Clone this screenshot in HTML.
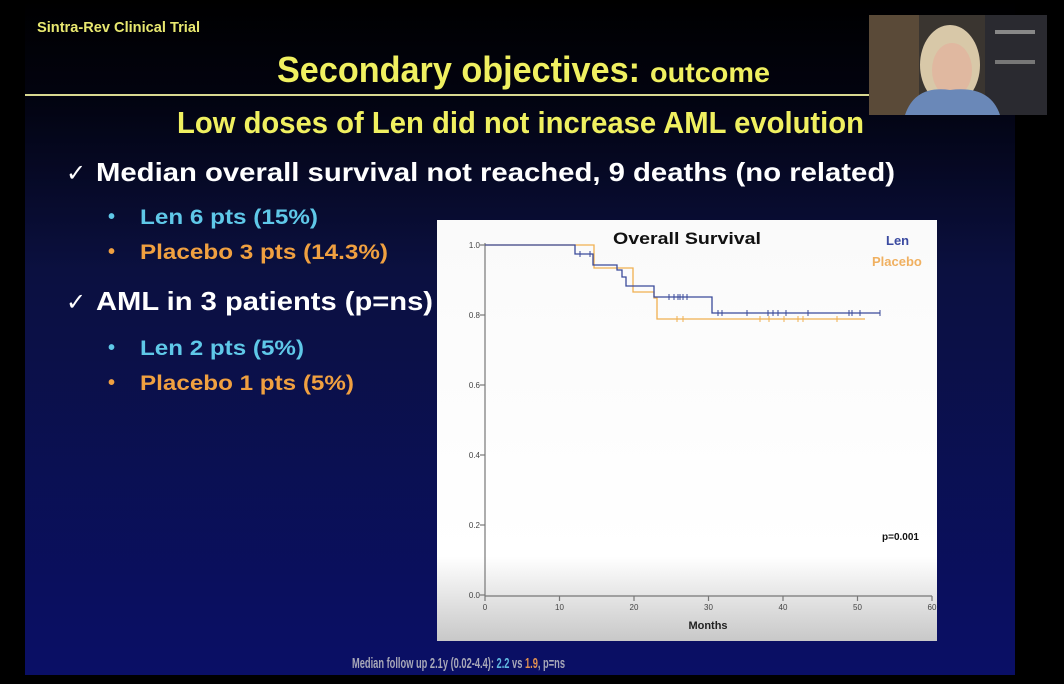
<!DOCTYPE html>
<html><head><meta charset="utf-8"><style>
html,body{margin:0;padding:0;background:#000;width:1064px;height:684px;overflow:hidden}
svg{display:block}
text{font-family:"Liberation Sans",sans-serif}
</style></head><body>
<svg width="1064" height="684" viewBox="0 0 1064 684" xmlns="http://www.w3.org/2000/svg">
<defs>
<linearGradient id="bg" x1="0" y1="0" x2="0" y2="1">
<stop offset="0" stop-color="#000000"/>
<stop offset="0.14" stop-color="#02030f"/>
<stop offset="0.4" stop-color="#0b1040"/>
<stop offset="1" stop-color="#0a0f66"/>
</linearGradient>
<linearGradient id="cb" x1="0" y1="0" x2="0" y2="1">
<stop offset="0" stop-color="#fafafa"/>
<stop offset="0.8" stop-color="#ffffff"/>
<stop offset="1" stop-color="#c8c8c8"/>
</linearGradient>
</defs>
<rect width="1064" height="684" fill="#000"/>
<rect x="25" y="0" width="990" height="675" fill="url(#bg)"/>
<text x="37" y="32" font-size="15" font-weight="bold" fill="#e8e870" textLength="163" lengthAdjust="spacingAndGlyphs">Sintra-Rev Clinical Trial</text>
<text x="277" y="82" font-size="36" font-weight="bold" fill="#f0f060" textLength="363" lengthAdjust="spacingAndGlyphs">Secondary objectives:</text>
<text x="650" y="82" font-size="28" font-weight="bold" fill="#f0f060" textLength="120" lengthAdjust="spacingAndGlyphs">outcome</text>
<rect x="25" y="94" width="845" height="2" fill="#d8d890"/>
<text x="177" y="133" font-size="31" font-weight="bold" fill="#f0f060" textLength="687" lengthAdjust="spacingAndGlyphs">Low doses of Len did not increase AML evolution</text>
<text x="66" y="181" font-size="24" fill="#fff">✓</text>
<text x="96" y="181" font-size="26" font-weight="bold" fill="#fff" textLength="799" lengthAdjust="spacingAndGlyphs">Median overall survival not reached, 9 deaths (no related)</text>
<text x="108" y="223" font-size="20" font-weight="bold" fill="#5fc8e8">•</text>
<text x="140" y="224" font-size="21" font-weight="bold" fill="#5fc8e8" textLength="178" lengthAdjust="spacingAndGlyphs">Len 6 pts (15%)</text>
<text x="108" y="258" font-size="20" font-weight="bold" fill="#f0a040">•</text>
<text x="140" y="259" font-size="21" font-weight="bold" fill="#f0a040" textLength="248" lengthAdjust="spacingAndGlyphs">Placebo 3 pts (14.3%)</text>
<text x="66" y="310" font-size="24" fill="#fff">✓</text>
<text x="96" y="310" font-size="26" font-weight="bold" fill="#fff" textLength="337" lengthAdjust="spacingAndGlyphs">AML in 3 patients (p=ns)</text>
<text x="108" y="354" font-size="20" font-weight="bold" fill="#5fc8e8">•</text>
<text x="140" y="355" font-size="21" font-weight="bold" fill="#5fc8e8" textLength="164" lengthAdjust="spacingAndGlyphs">Len 2 pts (5%)</text>
<text x="108" y="389" font-size="20" font-weight="bold" fill="#f0a040">•</text>
<text x="140" y="390" font-size="21" font-weight="bold" fill="#f0a040" textLength="214" lengthAdjust="spacingAndGlyphs">Placebo 1 pts (5%)</text>

<!-- chart -->
<rect x="437" y="220" width="500" height="421" fill="url(#cb)"/>
<text x="613" y="244" font-size="17" font-weight="bold" fill="#111" textLength="148" lengthAdjust="spacingAndGlyphs">Overall Survival</text>
<text x="886" y="245" font-size="13" font-weight="bold" fill="#3a4aa0">Len</text>
<text x="872" y="266" font-size="13" font-weight="bold" fill="#f0b060">Placebo</text>
<text x="882" y="540" font-size="10" font-weight="bold" fill="#111">p=0.001</text>
<g stroke="#777" stroke-width="1.2" fill="none">
<line x1="485" y1="243" x2="485" y2="596"/>
<line x1="485" y1="596" x2="932" y2="596"/>
<line x1="480" y1="245" x2="485" y2="245"/><line x1="480" y1="315" x2="485" y2="315"/><line x1="480" y1="385" x2="485" y2="385"/><line x1="480" y1="455" x2="485" y2="455"/><line x1="480" y1="525" x2="485" y2="525"/><line x1="480" y1="595" x2="485" y2="595"/>
<line x1="485" y1="596" x2="485" y2="601"/><line x1="559.5" y1="596" x2="559.5" y2="601"/><line x1="634" y1="596" x2="634" y2="601"/><line x1="708.5" y1="596" x2="708.5" y2="601"/><line x1="783" y1="596" x2="783" y2="601"/><line x1="857.5" y1="596" x2="857.5" y2="601"/><line x1="932" y1="596" x2="932" y2="601"/>
</g>
<g font-size="8" fill="#444" text-anchor="end">
<text x="480" y="248">1.0</text><text x="480" y="318">0.8</text><text x="480" y="388">0.6</text><text x="480" y="458">0.4</text><text x="480" y="528">0.2</text><text x="480" y="598">0.0</text>
</g>
<g font-size="8" fill="#444" text-anchor="middle">
<text x="485" y="610">0</text><text x="559.5" y="610">10</text><text x="634" y="610">20</text><text x="708.5" y="610">30</text><text x="783" y="610">40</text><text x="857.5" y="610">50</text><text x="932" y="610">60</text>
</g>
<text x="708" y="629" font-size="11" font-weight="bold" fill="#222" text-anchor="middle">Months</text>
<polyline fill="none" stroke="#f0b050" stroke-width="1.3" points="485,245 594,245 594,268 633,268 633,292 654,292 654,298 657,298 657,319 865,319"/>
<polyline fill="none" stroke="#3a4a9a" stroke-width="1.3" points="485,245 575,245 575,254 593,254 593,265 617,265 617,270 622,270 622,277 626,277 626,286 654,286 654,297 712,297 712,313 880,313"/>
<g stroke="#3a4a9a" stroke-width="1">
<line x1="669" y1="294" x2="669" y2="300"/><line x1="674" y1="294" x2="674" y2="300"/><line x1="678" y1="294" x2="678" y2="300"/><line x1="680" y1="294" x2="680" y2="300"/><line x1="683" y1="294" x2="683" y2="300"/><line x1="687" y1="294" x2="687" y2="300"/>
<line x1="718" y1="310" x2="718" y2="316"/><line x1="722" y1="310" x2="722" y2="316"/><line x1="747" y1="310" x2="747" y2="316"/><line x1="768" y1="310" x2="768" y2="316"/><line x1="773" y1="310" x2="773" y2="316"/><line x1="778" y1="310" x2="778" y2="316"/><line x1="786" y1="310" x2="786" y2="316"/><line x1="808" y1="310" x2="808" y2="316"/><line x1="849" y1="310" x2="849" y2="316"/><line x1="852" y1="310" x2="852" y2="316"/><line x1="860" y1="310" x2="860" y2="316"/><line x1="880" y1="310" x2="880" y2="316"/>
<line x1="580" y1="251" x2="580" y2="257"/><line x1="590" y1="251" x2="590" y2="257"/>
</g>
<g stroke="#f0b050" stroke-width="1">
<line x1="677" y1="316" x2="677" y2="322"/><line x1="683" y1="316" x2="683" y2="322"/><line x1="760" y1="316" x2="760" y2="322"/><line x1="769" y1="316" x2="769" y2="322"/><line x1="784" y1="316" x2="784" y2="322"/><line x1="798" y1="316" x2="798" y2="322"/><line x1="803" y1="316" x2="803" y2="322"/><line x1="837" y1="316" x2="837" y2="322"/>
</g>

<text x="352" y="668" font-size="15" font-weight="bold" fill="#a8a8b8" textLength="213" lengthAdjust="spacingAndGlyphs">Median follow up 2.1y (0.02-4.4): <tspan fill="#60b8e0">2.2</tspan> vs <tspan fill="#e09050">1.9</tspan>, p=ns</text>

<!-- webcam -->
<rect x="869" y="15" width="178" height="100" fill="#3a3530"/>
<rect x="869" y="15" width="50" height="100" fill="#5a4a38"/>
<rect x="985" y="15" width="62" height="100" fill="#2a2a30"/>
<rect x="995" y="30" width="40" height="4" fill="#888"/>
<rect x="995" y="60" width="40" height="4" fill="#777"/>
<ellipse cx="950" cy="65" rx="30" ry="40" fill="#d8c8a8"/>
<ellipse cx="952" cy="70" rx="20" ry="27" fill="#e0b8a0"/>
<path d="M905 115 Q915 85 950 90 Q990 85 1000 115 Z" fill="#6a88b8"/>
</svg>
</body></html>
